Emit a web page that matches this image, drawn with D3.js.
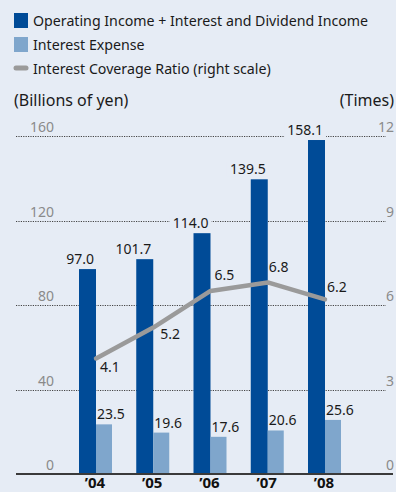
<!DOCTYPE html>
<html>
<head>
<meta charset="utf-8">
<script src="https://cdn.jsdelivr.net/npm/d3@7/dist/d3.min.js"></script>
<style>
  html, body { margin: 0; padding: 0; background: #e6ecf5; }
  svg { display: block; }
  text { font-family: "Noto Sans", "Open Sans", sans-serif; }
</style>
</head>
<body>
<svg id="chart" width="396" height="492"></svg>
<script>
// ---- data ----
const categories = ["\u201904", "\u201905", "\u201906", "\u201907", "\u201908"];
const operatingIncome = [97.0, 101.7, 114.0, 139.5, 158.1];
const interestExpense = [23.5, 19.6, 17.6, 20.6, 25.6];
const coverageRatio = [4.1, 5.2, 6.5, 6.8, 6.2];
const leftTicks = [0, 40, 80, 120, 160];
const rightTicks = [0, 3, 6, 9, 12];
const legendLabels = ["Operating Income + Interest and Dividend Income", "Interest Expense", "Interest Coverage Ratio (right scale)"];

// ---- styles ----
const BG = "#e6ecf5", DARK = "#004b97", LIGHT = "#7fa6cc", LINE = "#9a9a9a";

const svg = d3.select("#chart");
svg.append("rect").attr("width", 396).attr("height", 492).attr("fill", BG);

const yL = d3.scaleLinear().domain([0, 160]).range([474, 136]);
const yR = d3.scaleLinear().domain([0, 12]).range([474, 136]);
const x = d3.scalePoint().domain(categories).range([96, 325]);
const darkW = 17, lightW = 16;

// gridlines
const grid = svg.append("g");
leftTicks.filter(d => d > 0).forEach(t => {
  grid.append("line").attr("x1", 16).attr("x2", 386)
    .attr("y1", Math.round(yL(t)) + 0.5).attr("y2", Math.round(yL(t)) + 0.5)
    .attr("stroke", "#444").attr("stroke-width", 1).attr("stroke-dasharray", "1.2,1.2");
});

// label helper with background knockout
function labelWithBg(g, xPos, yPos, txt, anchor, opts = {}) {
  const t = g.append("text").attr("x", xPos).attr("y", yPos)
    .attr("text-anchor", anchor)
    .attr("font-size", opts.size || 14)
    .attr("fill", opts.fill || "#1a1a1a")
    .attr("font-weight", opts.weight || "normal")
    .text(txt);
  if (opts.bg) {
    const bb = t.node().getBBox();
    g.insert("rect", () => t.node())
      .attr("x", bb.x - 3).attr("y", bb.y + 2).attr("width", bb.width + 6).attr("height", bb.height - 4)
      .attr("fill", BG);
  }
  return t;
}

// axis tick labels
const axG = svg.append("g");
leftTicks.forEach(t => labelWithBg(axG, 54, yL(t) - 4, String(t), "end", {size: 14, fill: "#8a8a8a"}));
rightTicks.forEach(t => labelWithBg(axG, 394, yR(t) - 4, String(t), "end", {size: 14, fill: "#8a8a8a", bg: true}));

// bars
const bars = svg.append("g");
bars.selectAll(".dark").data(operatingIncome).join("rect")
  .attr("x", (d, i) => x(categories[i]) - darkW).attr("width", darkW)
  .attr("y", d => yL(d)).attr("height", d => yL(0) - yL(d)).attr("fill", DARK);
bars.selectAll(".light").data(interestExpense).join("rect")
  .attr("x", (d, i) => x(categories[i])).attr("width", lightW)
  .attr("y", d => yL(d)).attr("height", d => yL(0) - yL(d)).attr("fill", LIGHT);

// baseline
svg.append("line").attr("x1", 16).attr("x2", 393).attr("y1", 474).attr("y2", 474)
  .attr("stroke", "#3a3a3a").attr("stroke-width", 2);

// line
const line = d3.line().x((d, i) => x(categories[i])).y(d => yR(d));
svg.append("path").datum(coverageRatio).attr("d", line)
  .attr("fill", "none").attr("stroke", LINE).attr("stroke-width", 4.5)
  .attr("stroke-linejoin", "round").attr("stroke-linecap", "round");

// value labels
const vl = svg.append("g");
operatingIncome.forEach((d, i) => labelWithBg(vl, x(categories[i]) - 2, yL(d) - 5, d.toFixed(1), "end", {size: 14, bg: true}));
interestExpense.forEach((d, i) => labelWithBg(vl, x(categories[i]) + 1, yL(d) - 5, d.toFixed(1), "start", {size: 14}));
const lineOff = [[14, 13], [17, 11], [14, -11], [11, -10], [12, -7]];
coverageRatio.forEach((d, i) => labelWithBg(vl, x(categories[i]) + lineOff[i][0], yR(d) + lineOff[i][1], d.toFixed(1), "middle", {size: 14}));

// x labels
svg.append("g").selectAll("text").data(categories).join("text")
  .attr("x", d => x(d) - 1).attr("y", 487.5).attr("text-anchor", "middle")
  .attr("font-size", 15).attr("font-weight", "bold").attr("fill", "#111").text(d => d);

// legend
const lg = svg.append("g");
lg.append("rect").attr("x", 14).attr("y", 13).attr("width", 14).attr("height", 15).attr("fill", DARK);
lg.append("rect").attr("x", 14).attr("y", 37).attr("width", 14).attr("height", 15).attr("fill", LIGHT);
lg.append("line").attr("x1", 16).attr("x2", 26).attr("y1", 68).attr("y2", 68)
  .attr("stroke", LINE).attr("stroke-width", 5).attr("stroke-linecap", "round");
legendLabels.forEach((l, i) => lg.append("text").attr("x", 33).attr("y", 26 + i * 24)
  .attr("font-size", 14.2).attr("fill", "#1a1a1a").text(l));

// axis titles
svg.append("text").attr("x", 14).attr("y", 106).attr("font-size", 16).attr("fill", "#1a1a1a").text("(Billions of yen)");
svg.append("text").attr("x", 394).attr("y", 106).attr("text-anchor", "end").attr("font-size", 16).attr("fill", "#1a1a1a").text("(Times)");
</script>
</body>
</html>
